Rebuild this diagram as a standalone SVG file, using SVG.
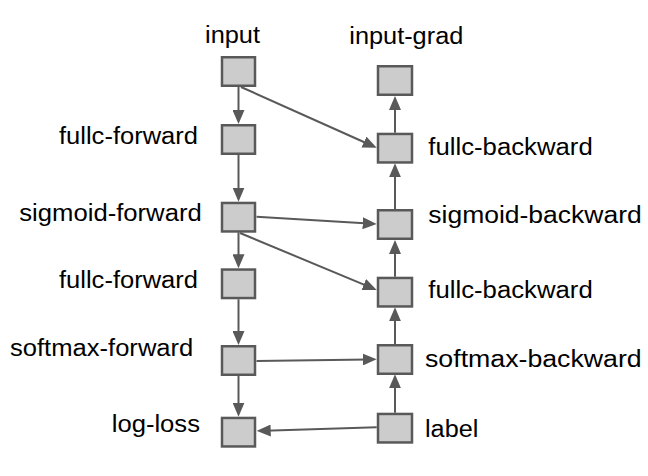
<svg xmlns="http://www.w3.org/2000/svg" width="648" height="476" viewBox="0 0 648 476">
<style>
  .box { fill: #cccccc; stroke: #595959; stroke-width: 2.5; }
  .lbl { font-family: "Liberation Sans", Arial, sans-serif; font-size: 23px; fill: #000000; }
  .edge { stroke: #595959; stroke-width: 2; fill: none; marker-end: url(#arrow); }
</style>
<defs>
  <marker id="arrow" markerUnits="userSpaceOnUse" markerWidth="14" markerHeight="12" refX="6" refY="6" orient="auto">
    <path d="M0,0 L14,6 L0,12 z" fill="#595959"/>
  </marker>
</defs>
<rect width="648" height="476" fill="#ffffff"/>

<g id="connectors">
  <line class="edge" x1="238.5" y1="87" x2="238.5" y2="116"/>
  <line class="edge" x1="238.5" y1="155" x2="238.5" y2="193.7"/>
  <line class="edge" x1="238.5" y1="232.3" x2="238.5" y2="260.3"/>
  <line class="edge" x1="238.5" y1="299.3" x2="238.5" y2="337"/>
  <line class="edge" x1="238.5" y1="375.7" x2="238.5" y2="408.7"/>
  <line class="edge" x1="395" y1="132.7" x2="395" y2="104"/>
  <line class="edge" x1="395" y1="209" x2="395" y2="171.3"/>
  <line class="edge" x1="395" y1="276.7" x2="395" y2="248"/>
  <line class="edge" x1="395" y1="344" x2="395" y2="315.3"/>
  <line class="edge" x1="395" y1="412.7" x2="395" y2="382.3"/>
  <line class="edge" x1="241" y1="87" x2="369.4" y2="144.5"/>
  <line class="edge" x1="256.5" y1="216.7" x2="368.7" y2="223.5"/>
  <line class="edge" x1="240" y1="233" x2="369.3" y2="286.9"/>
  <line class="edge" x1="256.5" y1="361" x2="368.7" y2="359.4"/>
  <line class="edge" x1="376.7" y1="427.3" x2="264.7" y2="430.75"/>
</g>

<g id="input">
  <rect class="box" x="222" y="57.25" width="33" height="28.5"/>
  <text class="lbl" x="205" y="43.3" textLength="55" lengthAdjust="spacingAndGlyphs">input</text>
</g>
<g id="fullc-forward-1">
  <rect class="box" x="222" y="125.25" width="33" height="28.5"/>
  <text class="lbl" x="59" y="144.3" textLength="139" lengthAdjust="spacingAndGlyphs">fullc-forward</text>
</g>
<g id="sigmoid-forward">
  <rect class="box" x="222" y="202.95" width="33" height="28.5"/>
  <text class="lbl" x="19.3" y="221" textLength="182.4" lengthAdjust="spacingAndGlyphs">sigmoid-forward</text>
</g>
<g id="fullc-forward-2">
  <rect class="box" x="222" y="269.55" width="33" height="28.5"/>
  <text class="lbl" x="59" y="288.3" textLength="139" lengthAdjust="spacingAndGlyphs">fullc-forward</text>
</g>
<g id="softmax-forward">
  <rect class="box" x="222" y="346.25" width="33" height="28.5"/>
  <text class="lbl" x="10" y="356" textLength="183.3" lengthAdjust="spacingAndGlyphs">softmax-forward</text>
</g>
<g id="log-loss">
  <rect class="box" x="222" y="417.95" width="33" height="28.5"/>
  <text class="lbl" x="111.7" y="431.7" textLength="88.3" lengthAdjust="spacingAndGlyphs">log-loss</text>
</g>

<g id="input-grad">
  <rect class="box" x="378" y="66.25" width="34" height="28.5"/>
  <text class="lbl" x="349.3" y="44" textLength="114" lengthAdjust="spacingAndGlyphs">input-grad</text>
</g>
<g id="fullc-backward-1">
  <rect class="box" x="378" y="133.95" width="34" height="28.5"/>
  <text class="lbl" x="428.3" y="155" textLength="164.4" lengthAdjust="spacingAndGlyphs">fullc-backward</text>
</g>
<g id="sigmoid-backward">
  <rect class="box" x="378" y="210.25" width="34" height="28.5"/>
  <text class="lbl" x="428.3" y="223.3" textLength="213.4" lengthAdjust="spacingAndGlyphs">sigmoid-backward</text>
</g>
<g id="fullc-backward-2">
  <rect class="box" x="378" y="277.95" width="34" height="28.5"/>
  <text class="lbl" x="428.3" y="298.3" textLength="164.4" lengthAdjust="spacingAndGlyphs">fullc-backward</text>
</g>
<g id="softmax-backward">
  <rect class="box" x="378" y="345.25" width="34" height="28.5"/>
  <text class="lbl" x="425" y="366.7" textLength="216.7" lengthAdjust="spacingAndGlyphs">softmax-backward</text>
</g>
<g id="label">
  <rect class="box" x="378" y="413.95" width="34" height="28.5"/>
  <text class="lbl" x="425" y="436.7" textLength="53.3" lengthAdjust="spacingAndGlyphs">label</text>
</g>
</svg>
